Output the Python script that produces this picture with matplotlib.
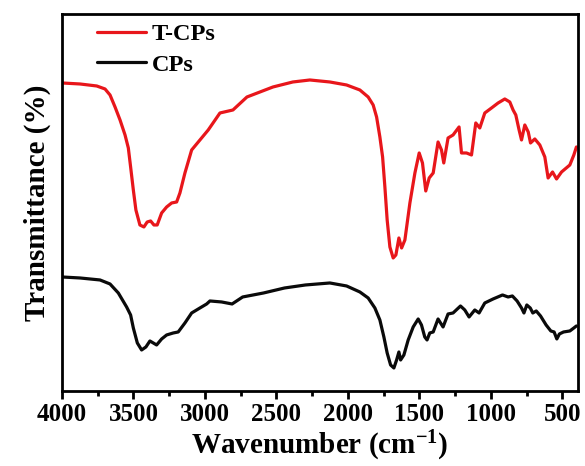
import matplotlib
matplotlib.use("Agg")
import matplotlib.pyplot as plt
from matplotlib.ticker import MultipleLocator

# Wavenumber (cm^-1) and transmittance (arbitrary units)
tcps_wn = [4000, 3874, 3757, 3699, 3664, 3629, 3594, 3559, 3536, 3520, 3501, 3483,
           3455, 3427, 3404, 3380, 3357, 3334, 3303, 3268, 3233, 3198, 3175, 3140,
           3093, 3035, 2977, 2895, 2804, 2706, 2615, 2524, 2385, 2266, 2126, 2009,
           1916, 1858, 1823, 1799, 1776, 1757, 1741, 1725, 1706, 1683, 1664, 1643,
           1624, 1601, 1566, 1531, 1501, 1478, 1455, 1431, 1403, 1369, 1345, 1329,
           1299, 1264, 1222, 1205, 1170, 1135, 1105, 1077, 1042, 995, 949, 902,
           867, 844, 825, 802, 785, 762, 738, 722, 692, 657, 622, 599, 568, 540,
           505, 447, 419, 401]
tcps_t = [383, 382, 380, 377, 371, 359, 346, 331, 318, 299, 276, 256,
          241, 239, 244, 245, 241, 241, 253, 259, 263, 264, 273, 293,
          316, 326, 336, 353, 356, 369, 374, 379, 384, 386, 384, 381,
          376, 369, 361, 349, 329, 309, 279, 246, 219, 208, 211, 228,
          218, 226, 263, 293, 313, 303, 275, 288, 293, 324, 316, 303,
          328, 331, 339, 313, 313, 311, 343, 338, 353, 358, 363, 367,
          364, 356, 351, 336, 326, 341, 334, 323, 327, 321, 309, 288, 294, 287,
          294, 301, 311, 319]

cps_wn = [4000, 3874, 3734, 3664, 3606, 3548, 3520, 3501, 3473, 3443, 3413, 3385,
          3338, 3303, 3268, 3222, 3187, 3140, 3093, 3035, 2988, 2965, 2883, 2810,
          2736, 2590, 2443, 2297, 2126, 2009, 1916, 1858, 1811, 1776, 1748, 1725,
          1701, 1678, 1659, 1643, 1631, 1608, 1578, 1543, 1508, 1485, 1462, 1446,
          1427, 1403, 1369, 1334, 1299, 1264, 1212, 1182, 1152, 1112, 1082, 1042,
          984, 918, 879, 849, 816, 785, 768, 748, 724, 706, 682, 652, 613, 580,
          557, 538, 520, 491, 447, 419, 401]
cps_t = [189, 188, 186, 182, 173, 159, 151, 138, 123, 116, 119, 125,
         121, 127, 131, 133, 134, 143, 153, 158, 162, 165, 164, 162,
         169, 173, 178, 181, 183, 180, 174, 168, 158, 146, 129, 113,
         101, 98, 106, 114, 106, 111, 126, 139, 147, 141, 129, 126,
         133, 134, 147, 139, 152, 153, 160, 156, 149, 156, 153, 163,
         167, 171, 169, 170, 165, 158, 153, 161, 158, 153, 155, 150, 141, 135,
         134, 127, 132, 134, 135, 138, 140]

xticks = [4000, 3500, 3000, 2500, 2000, 1500, 1000, 500]
series_labels = ["T-CPs", "CPs"]

plt.rcParams["font.family"] = ["Liberation Serif", "DejaVu Serif"]
plt.rcParams["font.weight"] = "bold"
plt.rcParams["mathtext.fontset"] = "custom"
plt.rcParams["mathtext.rm"] = "Liberation Serif:bold"
plt.rcParams["mathtext.bf"] = "Liberation Serif:bold"
plt.rcParams["mathtext.it"] = "Liberation Serif:bold"

fig = plt.figure(figsize=(5.85, 4.66), dpi=100)
ax = fig.add_axes([0.106, 0.161, 0.882, 0.809])

ax.plot(tcps_wn, tcps_t, color="#e8161b", lw=2.3, label=series_labels[0],
        solid_joinstyle="round", solid_capstyle="round")
ax.plot(cps_wn, cps_t, color="#0a0a0a", lw=2.3, label=series_labels[1],
        solid_joinstyle="round", solid_capstyle="round")

ax.set_xlim(4000, 390)
ax.set_ylim(75, 452)
ax.set_xticks(xticks)
ax.xaxis.set_minor_locator(MultipleLocator(250))
ax.set_yticks([])
ax.tick_params(axis="x", which="major", direction="out", length=6, width=2,
               labelsize=18, pad=3)
ax.tick_params(axis="x", which="minor", direction="out", length=3.5, width=2)
for lab in ax.get_xticklabels():
    lab.set_fontweight("bold")
for sp in ax.spines.values():
    sp.set_linewidth(2)

ax.set_xlabel("Wavenumber (cm$^{-1}$)", fontsize=21, fontweight="bold", labelpad=2)
ax.set_ylabel("Transmittance (%)", fontsize=21, fontweight="bold", labelpad=8)

leg = ax.legend(loc="upper left", bbox_to_anchor=(0.068, 0.975), frameon=False,
                fontsize=17.5, handlelength=2.0, handletextpad=0.25,
                labelspacing=0.35, borderaxespad=0, borderpad=0)
for t in leg.get_texts():
    t.set_fontweight("bold")

fig.savefig("out.png", dpi=100)
